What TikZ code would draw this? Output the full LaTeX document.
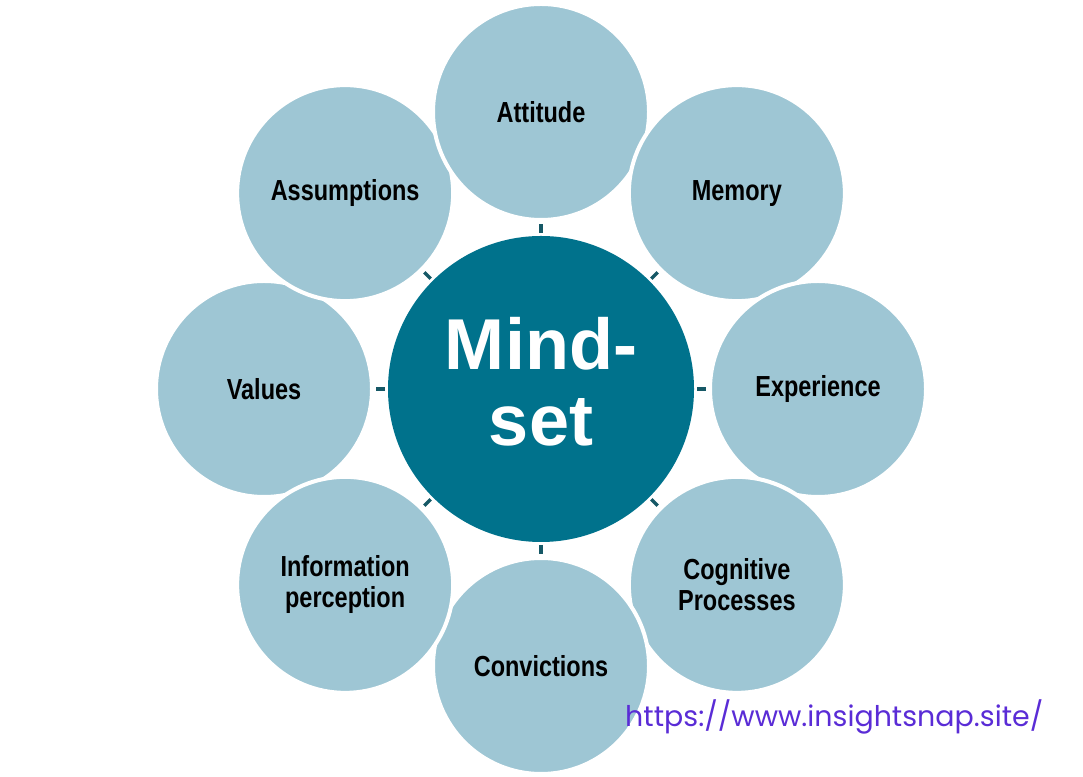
\documentclass[tikz,border=0pt]{standalone}
\usepackage{fontspec}
\setmainfont{Liberation Sans}
\newfontfamily\narrowfont{Liberation Sans}[FakeStretch=0.81]
\newfontfamily\urlfont{Poppins}
\usepackage{xcolor}
\usetikzlibrary{calc}

\definecolor{hubteal}{RGB}{0,114,140}
\definecolor{spokeblue}{RGB}{158,198,212}
\definecolor{tickteal}{RGB}{22,88,102}
\definecolor{linkpurple}{RGB}{90,44,214}

\begin{document}
\begin{tikzpicture}[
    hub/.style={circle, fill=hubteal, minimum size=6.12cm, inner sep=0pt, outer sep=0pt, text depth=0.3cm, align=center, text=white, font=\fontsize{41}{43}\selectfont\bfseries},
    spoke/.style={circle, fill=spokeblue, draw=white, line width=0.08cm, minimum size=4.32cm, inner sep=0pt, outer sep=0pt, align=center, font=\narrowfont\fontsize{16.5}{17.5}\selectfont\bfseries},
    tick/.style={draw=tickteal, line width=0.07cm, shorten <=3.12cm, shorten >=2.24cm},
    link/.style={anchor=west, text=linkpurple, font=\urlfont\fontsize{16.2}{19}\selectfont}
]
\useasboundingbox (0,0) rectangle (21.66,15.54);

% Mitte
\node[hub] (mindset) at (10.82,7.76) {Mind-\\set};

% Kreise ringsum (Reihenfolge = Ueberdeckung)
\foreach \ang/\nm/\txt in {180/values/Values, 135/assumptions/Assumptions, 90/attitude/Attitude, 45/memory/Memory, 0/experience/Experience, -45/cognitive/{Cognitive\\Processes}, -90/convictions/Convictions, -135/information/{Information\\perception}}
  \node[spoke] (\nm) at ($(mindset)+(\ang:5.54)$) {\txt};

% kurze Striche zwischen Mitte und Kreisen
\foreach \nm in {values, assumptions, attitude, memory, experience, cognitive, convictions, information}
  \draw[tick] (mindset.center) -- (\nm.center);

% Link
\node[link] (url) at (12.38,1.2) {https://www.insightsnap.site/};

\end{tikzpicture}
\end{document}
